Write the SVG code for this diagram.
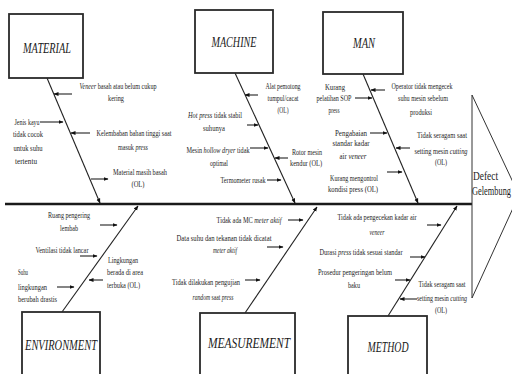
<svg xmlns="http://www.w3.org/2000/svg" width="512" height="374" viewBox="0 0 512 374">
<style>
.box{fill:#fff;stroke:#2a2a2a;stroke-width:1.8}
.lbl{font-family:"Liberation Serif",serif;font-style:italic;font-size:15px;fill:#1a1a1a;text-anchor:middle}
.t{font-family:"Liberation Serif",serif;font-size:9px;fill:#1c1c1c;text-anchor:middle}
.tl{font-family:"Liberation Serif",serif;font-size:9px;fill:#1c1c1c;text-anchor:start}
.i{font-style:italic}
.bone{stroke:#222;stroke-width:1.1;fill:none}
.ar{stroke:#222;stroke-width:1.1;fill:none;marker-end:url(#ah)}
.head{stroke:#333;stroke-width:1;fill:none}
.big{font-family:"Liberation Serif",serif;font-size:13px;fill:#1a1a1a}
</style>
<defs>
<marker id="ah" viewBox="0 0 10 10" refX="9" refY="5" markerWidth="5" markerHeight="5" orient="auto" markerUnits="userSpaceOnUse"><path d="M0,1 L10,5 L0,9 z" fill="#111"/></marker>
</defs>
<rect width="512" height="374" fill="#fff"/>

<g id="connectors">
<line x1="5" y1="204" x2="472" y2="204" stroke="#1a1a1a" stroke-width="2.4"/>
<path class="head" d="M472,95 L472,298 M472,95 L519,195 L472,298"/>
<line class="ar" x1="47" y1="78" x2="100" y2="203"/>
<line class="ar" x1="235" y1="73" x2="295" y2="203"/>
<line class="ar" x1="363" y1="74" x2="418" y2="203"/>
<line class="ar" x1="62" y1="312" x2="138" y2="206"/>
<line class="ar" x1="245" y1="313" x2="317" y2="207"/>
<line class="ar" x1="388" y1="316" x2="457" y2="206"/>
<line class="ar" x1="72" y1="94" x2="54" y2="94"/>
<line class="ar" x1="40" y1="122" x2="63" y2="122"/>
<line class="ar" x1="90" y1="133" x2="71" y2="133"/>
<line class="ar" x1="91" y1="179" x2="108" y2="179"/>
<line class="ar" x1="258" y1="95" x2="245" y2="95"/>
<line class="ar" x1="247" y1="125" x2="258" y2="125"/>
<line class="ar" x1="250" y1="148" x2="268" y2="148"/>
<line class="ar" x1="288" y1="158" x2="275" y2="158"/>
<line class="ar" x1="267" y1="180" x2="281" y2="180"/>
<line class="ar" x1="355" y1="98" x2="372" y2="98"/>
<line class="ar" x1="385" y1="90" x2="371" y2="90"/>
<line class="ar" x1="370" y1="133" x2="387" y2="133"/>
<line class="ar" x1="410" y1="148" x2="396" y2="148"/>
<line class="ar" x1="387" y1="172" x2="402" y2="172"/>
<line class="ar" x1="100" y1="225" x2="117" y2="225"/>
<line class="ar" x1="80" y1="256" x2="97" y2="256"/>
<line class="ar" x1="57" y1="287" x2="74" y2="287"/>
<line class="ar" x1="103" y1="280" x2="89" y2="280"/>
<line class="ar" x1="288" y1="220" x2="303" y2="220"/>
<line class="ar" x1="267" y1="247" x2="283" y2="247"/>
<line class="ar" x1="245" y1="280" x2="260" y2="280"/>
<line class="ar" x1="427" y1="225" x2="441" y2="225"/>
<line class="ar" x1="410" y1="257" x2="425" y2="257"/>
<line class="ar" x1="395" y1="280" x2="410" y2="280"/>
<line class="ar" x1="417" y1="299" x2="400" y2="299"/>
</g>

<g id="material">
<rect class="box" x="9" y="14" width="74" height="64"/>
<text class="lbl" x="47" y="53" textLength="48" lengthAdjust="spacingAndGlyphs">MATERIAL</text>
</g>
<g id="machine">
<rect class="box" x="195" y="10" width="78" height="63"/>
<text class="lbl" x="234" y="47" textLength="45" lengthAdjust="spacingAndGlyphs">MACHINE</text>
</g>
<g id="man">
<rect class="box" x="323" y="12" width="80" height="62"/>
<text class="lbl" x="364" y="48" textLength="22" lengthAdjust="spacingAndGlyphs">MAN</text>
</g>
<g id="environment">
<rect class="box" x="22" y="312" width="78" height="70"/>
<text class="lbl" x="61" y="350" textLength="72" lengthAdjust="spacingAndGlyphs">ENVIRONMENT</text>
</g>
<g id="measurement">
<rect class="box" x="200" y="313" width="95" height="70"/>
<text class="lbl" x="249" y="348" textLength="82" lengthAdjust="spacingAndGlyphs">MEASUREMENT</text>
</g>
<g id="method">
<rect class="box" x="348" y="316" width="79" height="70"/>
<text class="lbl" x="388" y="352" textLength="41" lengthAdjust="spacingAndGlyphs">METHOD</text>
</g>
<g id="effect">
<text class="big" x="473" y="180" textLength="25" lengthAdjust="spacingAndGlyphs">Defect</text>
<text class="big" x="472" y="195" textLength="39" lengthAdjust="spacingAndGlyphs">Gelembung</text>
</g>

<g id="material-causes">
<text class="t" x="118" y="89" textLength="77" lengthAdjust="spacingAndGlyphs"><tspan class="i">Veneer</tspan> basah atau belum cukup</text>
<text class="t" x="116" y="101" textLength="16" lengthAdjust="spacingAndGlyphs">kering</text>
<text class="t" x="27" y="125" textLength="25" lengthAdjust="spacingAndGlyphs">Jenis kayu</text>
<text class="t" x="28" y="137" textLength="30" lengthAdjust="spacingAndGlyphs">tidak cocok</text>
<text class="t" x="28" y="151" textLength="29" lengthAdjust="spacingAndGlyphs">untuk suhu</text>
<text class="t" x="26" y="164" textLength="22" lengthAdjust="spacingAndGlyphs">tertentu</text>
<text class="t" x="134" y="136" textLength="75" lengthAdjust="spacingAndGlyphs">Kelembaban bahan tinggi saat</text>
<text class="t" x="133" y="150" textLength="30" lengthAdjust="spacingAndGlyphs">masuk <tspan class="i">press</tspan></text>
<text class="t" x="140" y="175" textLength="54" lengthAdjust="spacingAndGlyphs">Material masih basah</text>
<text class="t" x="138" y="187" textLength="13" lengthAdjust="spacingAndGlyphs">(OL)</text>
</g>

<g id="machine-causes">
<text class="t" x="283" y="89" textLength="35" lengthAdjust="spacingAndGlyphs">Alat pemotong</text>
<text class="t" x="283" y="101" textLength="31" lengthAdjust="spacingAndGlyphs">tumpul/cacat</text>
<text class="t" x="283" y="113" textLength="11" lengthAdjust="spacingAndGlyphs">(OL)</text>
<text class="t" x="215" y="118" textLength="54" lengthAdjust="spacingAndGlyphs"><tspan class="i">Hot press</tspan> tidak stabil</text>
<text class="t" x="214" y="131" textLength="22" lengthAdjust="spacingAndGlyphs">suhunya</text>
<text class="t" x="218" y="153" textLength="63" lengthAdjust="spacingAndGlyphs">Mesin <tspan class="i">hollow dryer</tspan> tidak</text>
<text class="t" x="219" y="166" textLength="18" lengthAdjust="spacingAndGlyphs">optimal</text>
<text class="t" x="307" y="155" textLength="30" lengthAdjust="spacingAndGlyphs">Rotor mesin</text>
<text class="t" x="306" y="166" textLength="32" lengthAdjust="spacingAndGlyphs">kendur (OL)</text>
<text class="t" x="243" y="183" textLength="45" lengthAdjust="spacingAndGlyphs">Termometer rusak</text>
</g>

<g id="man-causes">
<text class="t" x="335" y="90" textLength="20" lengthAdjust="spacingAndGlyphs">Kurang</text>
<text class="t" x="334" y="101" textLength="35" lengthAdjust="spacingAndGlyphs">pelatihan SOP</text>
<text class="t" x="334" y="113" textLength="11" lengthAdjust="spacingAndGlyphs">press</text>
<text class="t" x="422" y="89" textLength="61" lengthAdjust="spacingAndGlyphs">Operator tidak mengecek</text>
<text class="t" x="423" y="101" textLength="50" lengthAdjust="spacingAndGlyphs">suhu mesin sebelum</text>
<text class="t" x="421" y="115" textLength="22" lengthAdjust="spacingAndGlyphs">produksi</text>
<text class="t" x="351" y="136" textLength="32" lengthAdjust="spacingAndGlyphs">Pengabaian</text>
<text class="t" x="351" y="146" textLength="37" lengthAdjust="spacingAndGlyphs">standar kadar</text>
<text class="t" x="353" y="159" textLength="27" lengthAdjust="spacingAndGlyphs">air <tspan class="i">veneer</tspan></text>
<text class="t" x="442" y="138" textLength="50" lengthAdjust="spacingAndGlyphs">Tidak seragam saat</text>
<text class="t" x="441" y="154" textLength="53" lengthAdjust="spacingAndGlyphs">setting mesin <tspan class="i">cutting</tspan></text>
<text class="t" x="441" y="165" textLength="12" lengthAdjust="spacingAndGlyphs">(OL)</text>
<text class="t" x="354" y="181" textLength="48" lengthAdjust="spacingAndGlyphs">Kurang mengontrol</text>
<text class="t" x="353" y="192" textLength="50" lengthAdjust="spacingAndGlyphs">kondisi press (OL)</text>
</g>

<g id="environment-causes">
<text class="t" x="69" y="218" textLength="42" lengthAdjust="spacingAndGlyphs">Ruang pengering</text>
<text class="t" x="69" y="231" textLength="18" lengthAdjust="spacingAndGlyphs">lembab</text>
<text class="t" x="62" y="253" textLength="53" lengthAdjust="spacingAndGlyphs">Ventilasi tidak lancar</text>
<text class="tl" x="18" y="275" textLength="10" lengthAdjust="spacingAndGlyphs">Suhu</text>
<text class="tl" x="18" y="290" textLength="29" lengthAdjust="spacingAndGlyphs">lingkungan</text>
<text class="tl" x="18" y="302" textLength="39" lengthAdjust="spacingAndGlyphs">berubah drastis</text>
<text class="tl" x="108" y="263" textLength="30" lengthAdjust="spacingAndGlyphs">Lingkungan</text>
<text class="tl" x="107" y="275" textLength="36" lengthAdjust="spacingAndGlyphs">berada di area</text>
<text class="tl" x="107" y="288" textLength="33" lengthAdjust="spacingAndGlyphs">terbuka (OL)</text>
</g>

<g id="measurement-causes">
<text class="t" x="249" y="223" textLength="65" lengthAdjust="spacingAndGlyphs">Tidak ada MC <tspan class="i">meter aktif</tspan></text>
<text class="t" x="224" y="241" textLength="95" lengthAdjust="spacingAndGlyphs">Data suhu dan tekanan tidak dicatat</text>
<text class="t" x="225" y="253" textLength="24" lengthAdjust="spacingAndGlyphs" font-style="italic">meter aktif</text>
<text class="t" x="206" y="285" textLength="68" lengthAdjust="spacingAndGlyphs">Tidak dilakukan pengujian</text>
<text class="t" x="213" y="300" textLength="41" lengthAdjust="spacingAndGlyphs"><tspan class="i">random</tspan> saat <tspan class="i">press</tspan></text>
</g>

<g id="method-causes">
<text class="t" x="377" y="220" textLength="79" lengthAdjust="spacingAndGlyphs">Tidak ada pengecekan kadar air</text>
<text class="t" x="377" y="235" textLength="15" lengthAdjust="spacingAndGlyphs" font-style="italic">veneer</text>
<text class="t" x="361" y="255" textLength="83" lengthAdjust="spacingAndGlyphs">Durasi <tspan class="i">press</tspan> tidak sesuai standar</text>
<text class="t" x="355" y="275" textLength="74" lengthAdjust="spacingAndGlyphs">Prosedur pengeringan belum</text>
<text class="t" x="354" y="288" textLength="12" lengthAdjust="spacingAndGlyphs">baku</text>
<text class="t" x="442" y="287" textLength="47" lengthAdjust="spacingAndGlyphs">Tidak seragam saat</text>
<text class="t" x="442" y="301" textLength="50" lengthAdjust="spacingAndGlyphs">setting mesin <tspan class="i">cutting</tspan></text>
<text class="t" x="441" y="313" textLength="12" lengthAdjust="spacingAndGlyphs">(OL)</text>
</g>
</svg>
